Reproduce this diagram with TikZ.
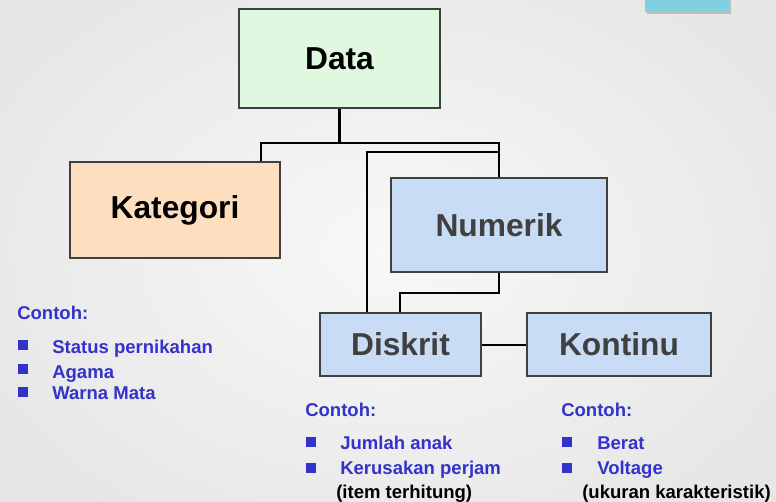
\documentclass[tikz,border=0pt]{standalone}
\usepackage{fontspec}
\setmainfont{Liberation Sans}
\usetikzlibrary{calc}
\definecolor{bgin}{HTML}{F8F8F8}
\definecolor{bgout}{HTML}{E6E6E6}
\definecolor{datafill}{HTML}{E0F8E0}
\definecolor{katfill}{HTML}{FDDFBF}
\definecolor{numfill}{HTML}{C9DCF5}
\definecolor{boxline}{HTML}{404040}
\definecolor{boxtext}{HTML}{404040}
\definecolor{txtblue}{HTML}{3333CC}
\definecolor{teal}{HTML}{80D0DF}
\tikzset{
  box/.style={draw=boxline, line width=1pt, inner sep=0pt, font=\fontsize{23.8pt}{28pt}\selectfont\bfseries},
  conn/.style={line width=1.7pt, black},
  lbl/.style={anchor=base west, inner sep=0pt, font=\fontsize{13.9pt}{16pt}\selectfont\bfseries, text=txtblue},
  note/.style={lbl, text=black},
  bullet/.style={fill=txtblue, draw=none, inner sep=0pt, minimum size=7.5pt, anchor=north west}
}
\begin{document}
\begin{tikzpicture}[x=0.75pt,y=-0.75pt]
\useasboundingbox (0,0) rectangle (776,501);
\shade[inner color=bgin, outer color=bgout] (-80,-80) rectangle (856,581);
% teal rectangle with shadow
\fill[gray!50] (647,-5) rectangle (731,13.5);
\fill[teal] (645,-5) rectangle (729,12);
% boxes
\node[box, fill=datafill, minimum width=150.75pt, minimum height=74.25pt] (data) at (339.5,58.5) {\raisebox{-2.5pt}{Data}};
\node[box, fill=katfill, minimum width=157.5pt, minimum height=72pt] (kat) at (175,210) {Kategori};
\node[box, fill=numfill, text=boxtext, minimum width=162pt, minimum height=70.5pt] (num) at (499,225) {\raisebox{-1.5pt}{Numerik}};
\node[box, fill=numfill, text=boxtext, minimum width=120.75pt, minimum height=47.25pt] (dis) at (400.5,344.5) {Diskrit};
\node[box, fill=numfill, text=boxtext, minimum width=138pt, minimum height=47.25pt] (kon) at (619,344.5) {Kontinu};
% connectors
\coordinate (ka) at (261,143);
\coordinate (nb) at (499,143);
\coordinate (c2) at (367,152);
\coordinate (c3) at (400,293);
\draw[conn] (data.south) -- (data.south |- ka);
\draw[conn] (ka |- kat.north) -- (ka) -- (nb) -- (num.north);
\draw[conn] (num.north |- c2) -- (c2) -- (c2 |- dis.north);
\draw[conn] (num.south) -- (num.south |- c3) -- (c3) -- (c3 |- dis.north);
\draw[conn, line width=1.5pt] (dis.east) -- (kon.west);
% left examples
\node[lbl] (k0) at (17,319) {Contoh:};
\node[bullet] (kb1) at (18,340) {};
\node[bullet] (kb2) at (18,364) {};
\node[bullet] (kb3) at (18,387) {};
\node[lbl] (k1) at (52,353) {Status pernikahan};
\node[lbl] (k2) at (52,378) {Agama};
\node[lbl] (k3) at (52,399) {Warna Mata};
% diskrit examples
\node[lbl] (d0) at (305,416) {Contoh:};
\node[bullet] (db1) at (306,437) {};
\node[bullet] (db2) at (306,463) {};
\node[lbl] (d1) at (340,449) {Jumlah anak};
\node[lbl] (d2) at (340,474) {Kerusakan perjam};
\node[note] (d3) at (336,498) {(item terhitung)};
% kontinu examples
\node[lbl] (n0) at (561,416) {Contoh:};
\node[bullet] (nb1) at (562,437) {};
\node[bullet] (nb2) at (562,463) {};
\node[lbl] (n1) at (597,449) {Berat};
\node[lbl] (n2) at (597,474) {Voltage};
\node[note] (n3) at (582,498) {(ukuran karakteristik)};
\end{tikzpicture}
\end{document}
